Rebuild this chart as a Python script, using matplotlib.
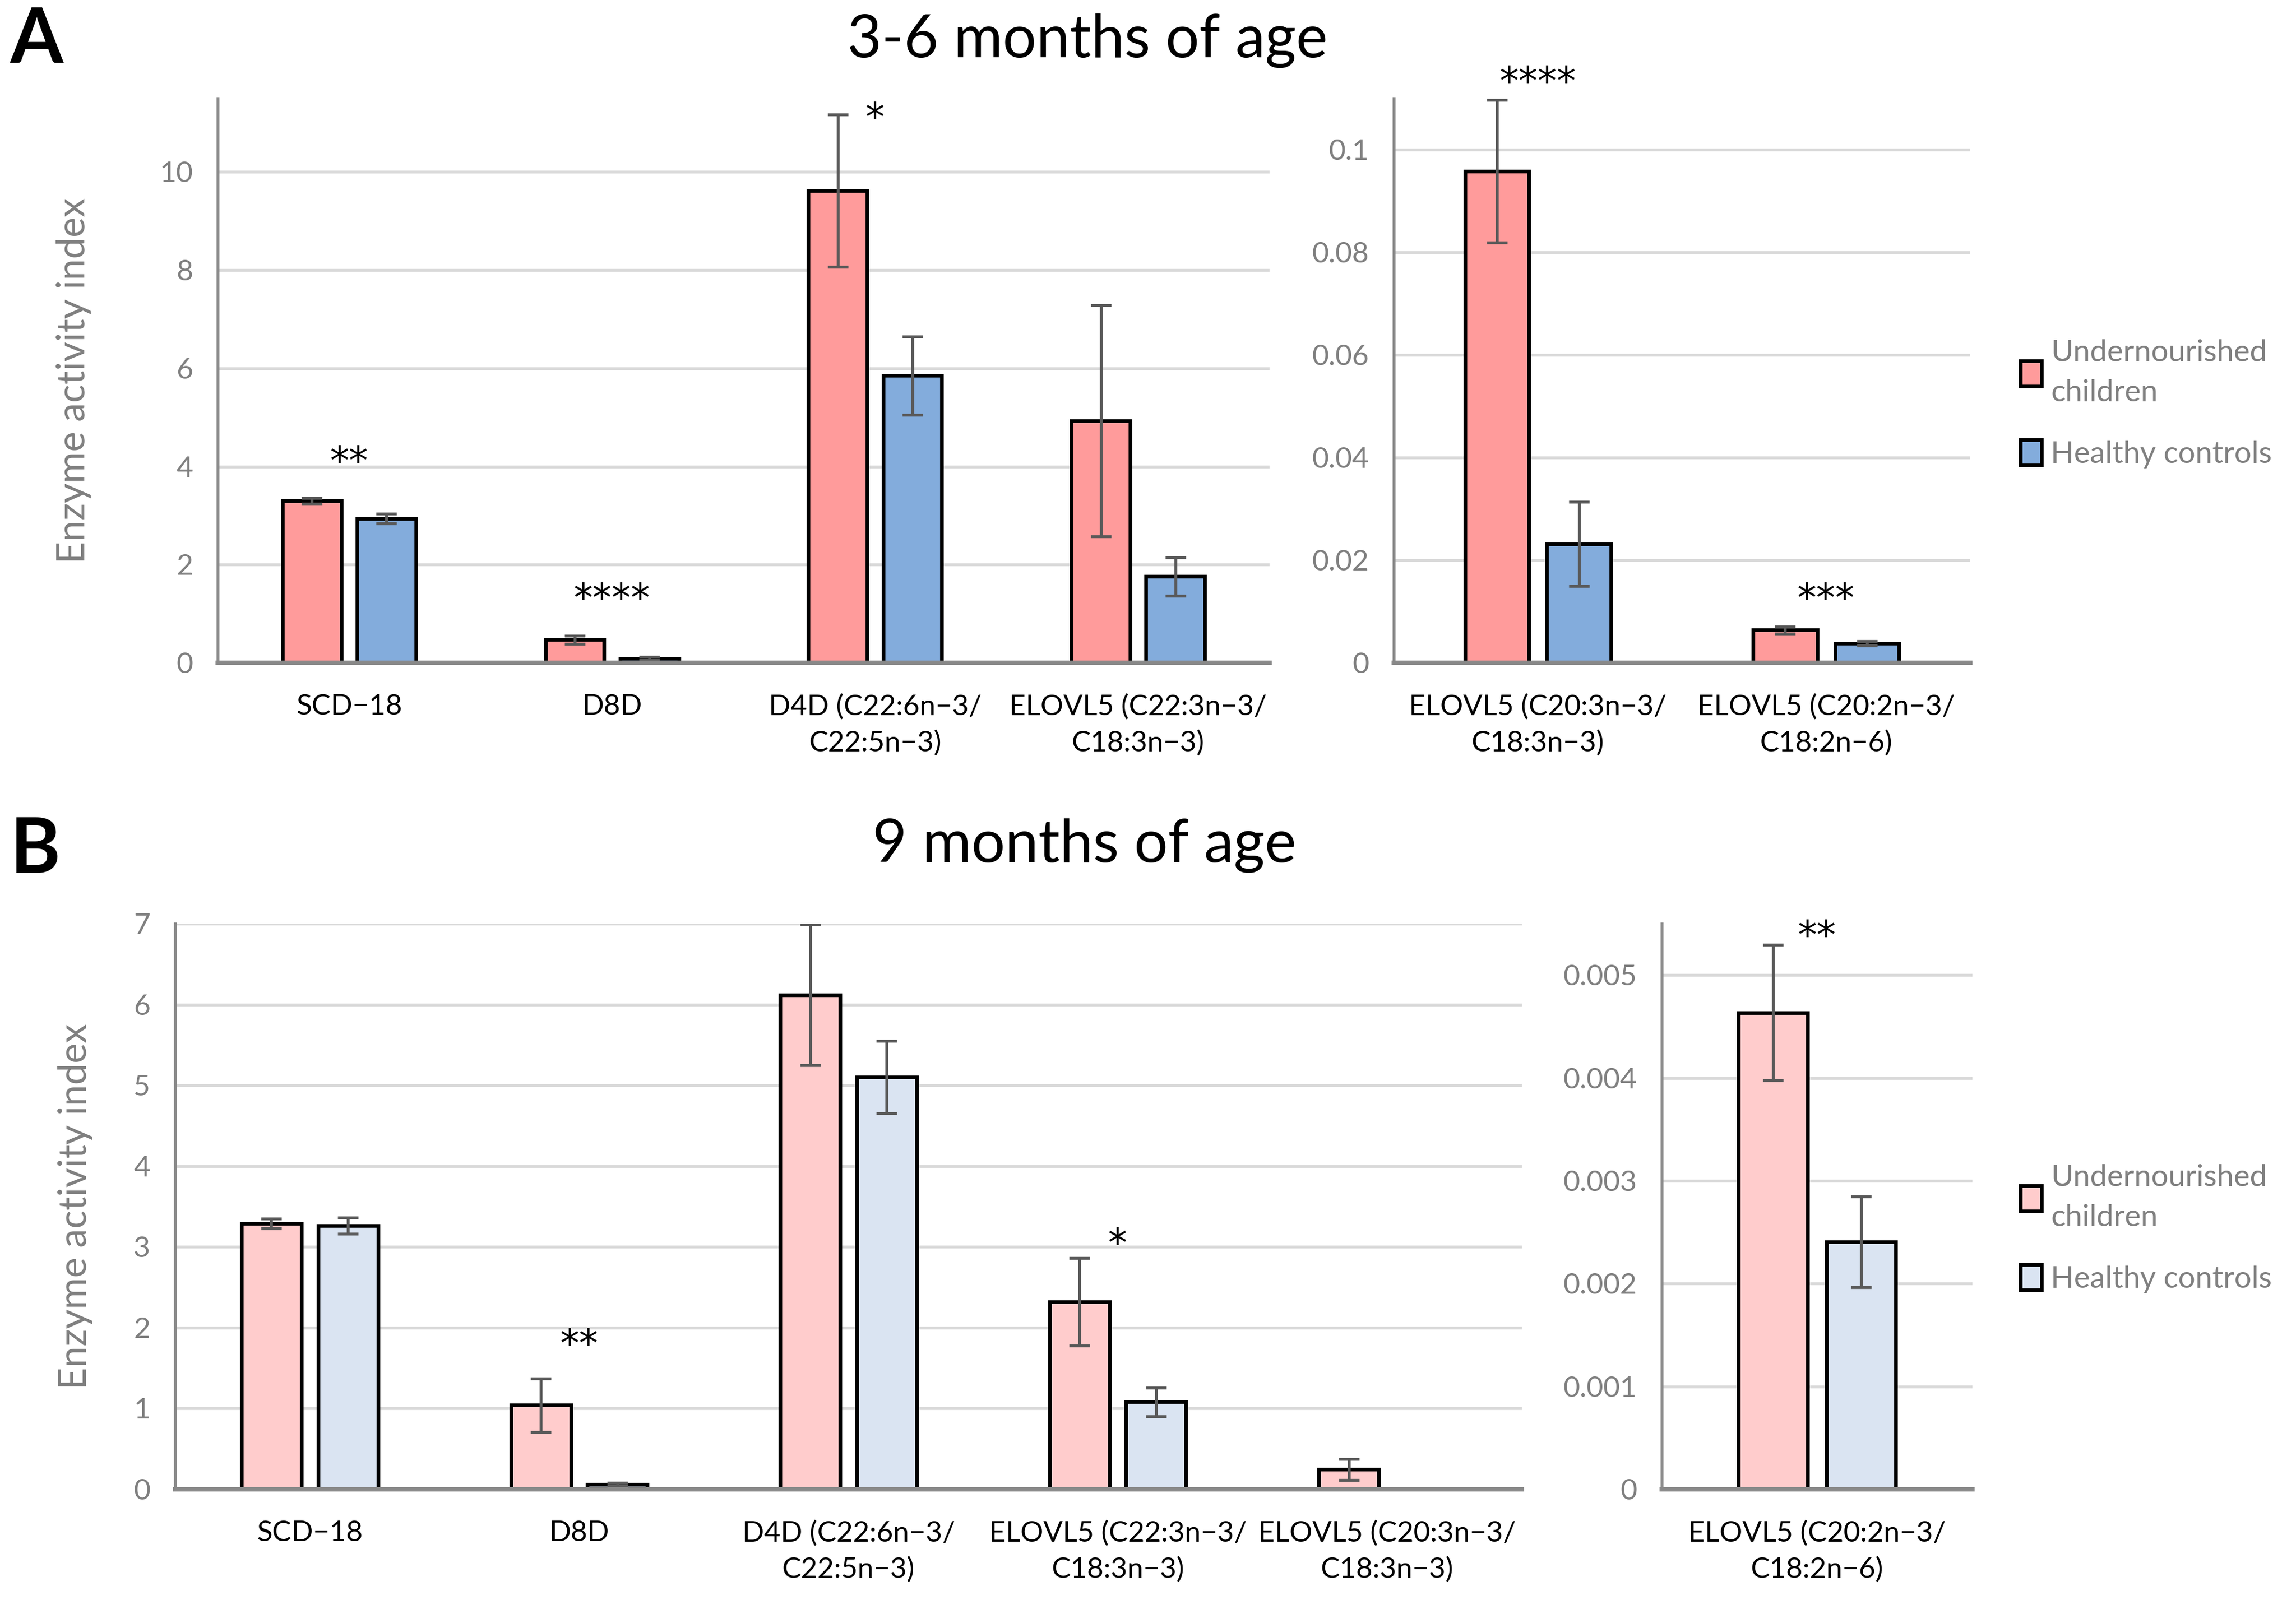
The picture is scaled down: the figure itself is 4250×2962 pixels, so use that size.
import matplotlib
matplotlib.use("Agg")
import matplotlib.pyplot as plt
from matplotlib.patches import Patch
import numpy as np

plt.rcParams['font.family'] = ['Lato', 'DejaVu Sans']

# ---------------- data ----------------
groups = ["Undernourished\nchildren", "Healthy controls"]

# Panel A (3-6 months) – main scale
a_cats = ["SCD\u221218", "D8D", "D4D (C22:6n\u22123/\nC22:5n\u22123)", "ELOVL5 (C22:3n\u22123/\nC18:3n\u22123)"]
a_under = [3.30, 0.47, 9.62, 4.93]
a_under_err = [0.06, 0.08, 1.55, 2.35]
a_healthy = [2.94, 0.09, 5.85, 1.76]
a_healthy_err = [0.10, 0.03, 0.80, 0.39]
a_stars = ["**", "****", "*", ""]
a_star_y = [4.2, 1.41, 11.2, 0]
a_ticks = [0, 2, 4, 6, 8, 10]
a_ticklabels = ["0", "2", "4", "6", "8", "10"]

# Panel A – small scale
a2_cats = ["ELOVL5 (C20:3n\u22123/\nC18:3n\u22123)", "ELOVL5 (C20:2n\u22123/\nC18:2n\u22126)"]
a2_under = [0.0958, 0.0064]
a2_under_err = [0.0139, 0.0007]
a2_healthy = [0.0232, 0.0038]
a2_healthy_err = [0.0082, 0.0004]
a2_stars = ["****", "***"]
a2_star_y = [0.1142, 0.0135]
a2_ticks = [0, 0.02, 0.04, 0.06, 0.08, 0.1]
a2_ticklabels = ["0", "0.02", "0.04", "0.06", "0.08", "0.1"]

# Panel B (9 months) – main scale
b_cats = ["SCD\u221218", "D8D", "D4D (C22:6n\u22123/\nC22:5n\u22123)", "ELOVL5 (C22:3n\u22123/\nC18:3n\u22123)",
          "ELOVL5 (C20:3n\u22123/\nC18:3n\u22123)"]
b_under = [3.29, 1.04, 6.12, 2.32, 0.245]
b_under_err = [0.06, 0.33, 0.87, 0.54, 0.13]
b_healthy = [3.26, 0.06, 5.10, 1.08, 0.005]
b_healthy_err = [0.10, 0.02, 0.45, 0.18, 0.0]
b_stars = ["", "**", "", "*", ""]
b_star_y = [0, 1.86, 0, 3.10, 0]
b_ticks = [0, 1, 2, 3, 4, 5, 6, 7]
b_ticklabels = ["0", "1", "2", "3", "4", "5", "6", "7"]

# Panel B – small scale
b2_cats = ["ELOVL5 (C20:2n\u22123/\nC18:2n\u22126)"]
b2_under = [0.004635]
b2_under_err = [0.00066]
b2_healthy = [0.002407]
b2_healthy_err = [0.00044]
b2_stars = ["**"]
b2_star_y = [0.00543]
b2_ticks = [0, 0.001, 0.002, 0.003, 0.004, 0.005]
b2_ticklabels = ["0", "0.001", "0.002", "0.003", "0.004", "0.005"]

# ---------------- style ----------------
A_COLORS = ["#FF9B9B", "#83ACDC"]
B_COLORS = ["#FFCCCC", "#DAE4F2"]
ERR_C = "#595959"
GRID_C = "#D9D9D9"
AXIS_C = "#898989"
TICK_C = "#7F7F7F"

W, H = 4250, 2962
fig = plt.figure(figsize=(W / 300, H / 300), dpi=300)


def frac(x0, y0, x1, y1):
    return [x0 / W, 1 - y1 / H, (x1 - x0) / W, (y1 - y0) / H]


def panel(rect, cats, under, under_err, healthy, healthy_err, stars, star_y,
          ticks, ticklabels, ylim, colors, ylabel=None, ylabel_x=None):
    ax = fig.add_axes(rect)
    x = np.arange(len(cats))
    bw = 0.223
    off = 0.142
    ekw = dict(ecolor=ERR_C, elinewidth=1.3, capsize=4.5, capthick=1.3)
    ax.bar(x - off, under, bw, color=colors[0], edgecolor="black", linewidth=1.6,
           yerr=under_err, error_kw=ekw, zorder=3)
    ax.bar(x + off, healthy, bw, color=colors[1], edgecolor="black", linewidth=1.6,
           yerr=healthy_err, error_kw=ekw, zorder=3)
    for xi, s, sy in zip(x, stars, star_y):
        if s:
            ax.annotate(s, (xi, sy), xytext=(0, -3), textcoords="offset points",
                        ha="center", va="center", fontsize=17, color="black",
                        family="DejaVu Sans", annotation_clip=False, zorder=5)
    ax.set_xlim(-0.5, len(cats) - 0.5)
    ax.set_ylim(*ylim)
    ax.set_yticks(ticks)
    ax.set_yticklabels(ticklabels)
    ax.set_xticks(x)
    ax.set_xticklabels(cats, linespacing=1.45)
    ax.tick_params(axis="y", length=0, pad=11, labelsize=12.8, labelcolor=TICK_C)
    ax.tick_params(axis="x", length=0, pad=14, labelsize=12.7, labelcolor="black")
    ax.grid(axis="y", color=GRID_C, linewidth=1.3, zorder=0)
    ax.set_axisbelow(True)
    for s in ["top", "right"]:
        ax.spines[s].set_visible(False)
    ax.spines["left"].set_color(AXIS_C)
    ax.spines["left"].set_linewidth(1.3)
    ax.spines["bottom"].set_color(AXIS_C)
    ax.spines["bottom"].set_linewidth(2.0)
    ax.spines["bottom"].set_zorder(4)
    if ylabel:
        ax.set_ylabel(ylabel, fontsize=17, color=TICK_C)
        ax.yaxis.set_label_coords(ylabel_x, 0.5)
    return ax


panel(frac(403, 182, 2350, 1227), a_cats, a_under, a_under_err, a_healthy, a_healthy_err,
      a_stars, a_star_y, a_ticks, a_ticklabels, (0, 11.5), A_COLORS,
      ylabel="Enzyme activity index", ylabel_x=-0.12)
panel(frac(2580, 182, 3647, 1227), a2_cats, a2_under, a2_under_err, a2_healthy, a2_healthy_err,
      a2_stars, a2_star_y, a2_ticks, a2_ticklabels, (0, 0.11), A_COLORS)
panel(frac(324, 1710, 2817, 2757), b_cats, b_under, b_under_err, b_healthy, b_healthy_err,
      b_stars, b_star_y, b_ticks, b_ticklabels, (0, 7), B_COLORS,
      ylabel="Enzyme activity index", ylabel_x=-0.061)
panel(frac(3076, 1710, 3651, 2757), b2_cats, b2_under, b2_under_err, b2_healthy, b2_healthy_err,
      b2_stars, b2_star_y, b2_ticks, b2_ticklabels, (0, 0.0055), B_COLORS)

# titles and panel letters
fig.text(2013 / W, 1 - 76 / H, "3-6 months of age", ha="center", va="center", fontsize=26.5)
fig.text(2007 / W, 1 - 1566 / H, "9 months of age", ha="center", va="center", fontsize=26.5)
fig.text(68 / W, 1 - 76 / H, "A", ha="center", va="center", fontsize=34, fontweight="bold")
fig.text(65 / W, 1 - 1575 / H, "B", ha="center", va="center", fontsize=34, fontweight="bold")

# legends
for colors, top in [(A_COLORS, 628), (B_COLORS, 2155)]:
    handles = [Patch(facecolor=c, edgecolor="black", linewidth=1.6) for c in colors]
    leg = fig.legend(handles, groups, loc="upper left", bbox_to_anchor=(3740 / W, 1 - top / H),
                     frameon=False, fontsize=13.5, handlelength=0.7, handleheight=0.9,
                     handletextpad=0.3, labelspacing=1.1, borderaxespad=0, borderpad=0)
    for t in leg.get_texts():
        t.set_color("#7F7F7F")
        t.set_linespacing(1.55)

fig.savefig("out.png", dpi=300)
